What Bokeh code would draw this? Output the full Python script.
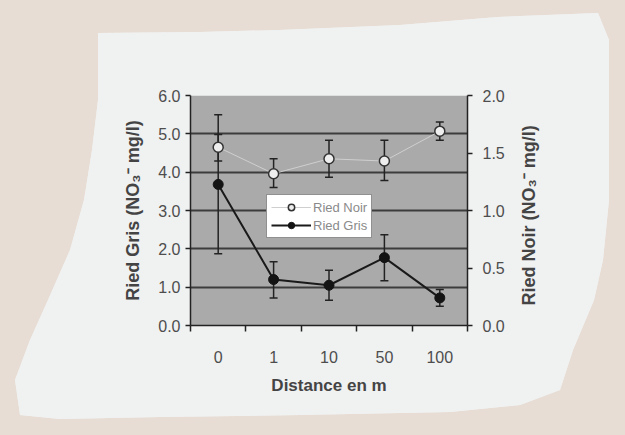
import math
from bokeh.plotting import figure
from bokeh.models import (Range1d, LinearAxis, FixedTicker, NumeralTickFormatter,
                          CustomJSTickFormatter, ColumnDataSource, Legend, LegendItem,
                          BoxAnnotation)
from bokeh.embed import file_html
from bokeh.resources import INLINE

# ---- data ----
categories = ["0", "1", "10", "50", "100"]
gris = [3.68, 1.20, 1.05, 1.77, 0.72]
gris_low = [1.87, 0.72, 0.66, 1.17, 0.50]
gris_high = [5.50, 1.66, 1.44, 2.37, 0.94]
noir = [1.55, 1.32, 1.45, 1.43, 1.69]
noir_low = [1.43, 1.20, 1.29, 1.26, 1.61]
noir_high = [1.66, 1.45, 1.61, 1.61, 1.77]
left_ticks = [0, 1, 2, 3, 4, 5, 6]
right_ticks = [0, 0.5, 1.0, 1.5, 2.0]
left_title = "Ried Gris (NO\u2083\u207b mg/l)"
right_title = "Ried Noir (NO\u2083\u207b mg/l)"
x_title = "Distance en m"

W, H = 609, 419
FONT = "Liberation Sans"
BEIGE = "#e7ddd4"
PAPER = "#f0f1f1"

xs = [i + 0.5 for i in range(len(categories))]
bounds = list(range(len(categories) + 1))

src = ColumnDataSource(dict(x=xs, gris=gris, gl=gris_low, gh=gris_high,
                            noir=noir, nl=noir_low, nh=noir_high))

# torn paper outline (decoration only, CSS pixels)
paper_pts = [(98, 33), (200, 32), (280, 30), (400, 25), (498, 17), (598, 13),
             (609, 40), (609, 120), (609, 200), (603, 260), (594, 300), (573, 350),
             (560, 390), (520, 405), (450, 412), (300, 415), (160, 417), (60, 419),
             (20, 415), (15, 380), (30, 340), (48, 300), (70, 250), (84, 200),
             (92, 150), (98, 100)]
clip = "polygon(" + ", ".join(f"{a}px {b}px" for a, b in paper_pts) + ")"

p = figure(width=W, height=H, output_backend="svg", toolbar_location=None,
           x_range=Range1d(0, len(categories)), y_range=Range1d(0, 6),
           min_border_left=190, min_border_right=142, min_border_top=95,
           min_border_bottom=94)
p.extra_y_ranges = {"noir": Range1d(0, 2)}
p.border_fill_color = PAPER
p.background_fill_alpha = 0
p.outline_line_color = None
p.styles = {"clip-path": clip, "background-color": PAPER}

p.add_layout(BoxAnnotation(fill_color="#aaaaaa", fill_alpha=1, line_color=None,
                           level="image"))

# axes
p.xaxis.ticker = FixedTicker(ticks=xs, minor_ticks=bounds)
p.xaxis.formatter = CustomJSTickFormatter(args=dict(labels=categories),
                                          code="return labels[Math.floor(tick)];")
p.xaxis.major_tick_line_color = None
p.xaxis.major_tick_out = 0
p.xaxis.major_tick_in = 0
p.xaxis.minor_tick_out = 6
p.xaxis.minor_tick_in = 0
p.xaxis.minor_tick_line_color = "#222222"
p.xaxis.minor_tick_line_width = 1.5
p.xaxis.major_label_standoff = 19
p.xaxis.axis_label = x_title
p.xaxis.axis_label_standoff = 10

p.yaxis.ticker = FixedTicker(ticks=left_ticks, minor_ticks=[])
p.yaxis.formatter = NumeralTickFormatter(format="0.0")
p.yaxis.axis_label = left_title
p.yaxis.axis_label_standoff = 12

raxis = LinearAxis(y_range_name="noir",
                   ticker=FixedTicker(ticks=right_ticks, minor_ticks=[]),
                   formatter=NumeralTickFormatter(format="0.0"))
p.add_layout(raxis, "right")
# title reading bottom-to-top, like the left one
raxis.axis_label = "\u00a0" * 4 + right_title
raxis.axis_label_orientation = math.pi / 2
raxis.axis_label_standoff = 21
try:
    raxis.axis_label_align = "start"
except Exception:
    pass

for ax in [p.xaxis[0], p.yaxis[0], raxis]:
    ax.axis_line_color = "#222222"
    ax.axis_line_width = 1.5
    ax.major_label_text_font = FONT
    ax.major_label_text_font_size = "16px"
    ax.major_label_text_color = "#4d4d4d"
    ax.axis_label_text_font = FONT
    ax.axis_label_text_font_size = "18px"
    ax.axis_label_text_font_style = "bold"
    ax.axis_label_text_color = "#444444"
for ax in [p.yaxis[0], raxis]:
    ax.major_tick_out = 5
    ax.major_tick_in = 0
    ax.major_tick_line_color = "#222222"
    ax.major_tick_line_width = 1.5
    ax.minor_tick_line_color = None
p.yaxis.major_label_standoff = 5
raxis.major_label_standoff = 10
p.xaxis.axis_label_text_font_size = "17px"

p.xgrid.grid_line_color = None
p.ygrid.ticker = FixedTicker(ticks=left_ticks)
p.ygrid.grid_line_color = "#3c3c3c"
p.ygrid.grid_line_width = 2

# Ried Gris (left axis)
p.segment(x0="x", x1="x", y0="gl", y1="gh", source=src, line_color="#222222",
          line_width=1.5)
p.scatter(x="x", y="gl", source=src, marker="dash", size=8, line_color="#222222",
          line_width=1.5)
p.scatter(x="x", y="gh", source=src, marker="dash", size=8, line_color="#222222",
          line_width=1.5)
gl_line = p.line(x="x", y="gris", source=src, line_color="#1a1a1a", line_width=2)
gl_pts = p.scatter(x="x", y="gris", source=src, marker="circle", size=10,
                   fill_color="#141414", line_color="#141414")

# Ried Noir (right axis)
p.segment(x0="x", x1="x", y0="nl", y1="nh", source=src, line_color="#222222",
          line_width=1.5, y_range_name="noir")
p.scatter(x="x", y="nl", source=src, marker="dash", size=8, line_color="#222222",
          line_width=1.5, y_range_name="noir")
p.scatter(x="x", y="nh", source=src, marker="dash", size=8, line_color="#222222",
          line_width=1.5, y_range_name="noir")
nl_line = p.line(x="x", y="noir", source=src, line_color="#cfcfcf", line_width=1,
                 y_range_name="noir")
nl_pts = p.scatter(x="x", y="noir", source=src, marker="circle", size=10,
                   fill_color="#eeeeee", line_color="#333333", line_width=1.5,
                   y_range_name="noir")

legend = Legend(items=[LegendItem(label="Ried Noir", renderers=[nl_line, nl_pts]),
                       LegendItem(label="Ried Gris", renderers=[gl_line, gl_pts])],
                location=(76, 87))
legend.background_fill_color = "white"
legend.background_fill_alpha = 1
legend.border_line_color = "#222222"
legend.border_line_width = 1.5
legend.label_text_font = FONT
legend.label_text_font_size = "13px"
legend.label_text_color = "#8a8a8a"
legend.glyph_width = 40
legend.glyph_height = 16
legend.label_height = 16
legend.label_standoff = 2
legend.spacing = 2
legend.padding = 4
legend.margin = 0
p.add_layout(legend, "center")

html = file_html(p, INLINE)
style = f"<style>html, body {{ background-color: {BEIGE}; }}</style>"
html = html.replace("</head>", style + "</head>", 1)
open("out.html", "w").write(html)
